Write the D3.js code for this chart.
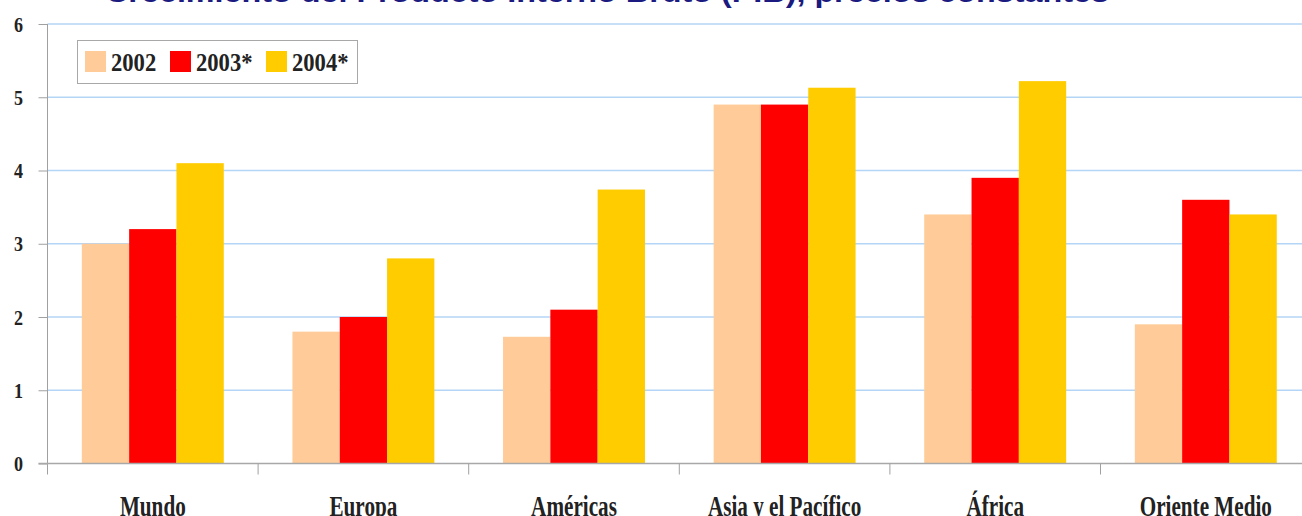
<!DOCTYPE html>
<html>
<head>
<meta charset="utf-8">
<script src="https://cdn.jsdelivr.net/npm/d3@7"></script>
<style>
  html, body { margin: 0; padding: 0; background: #fff; }
  svg { display: block; }
</style>
</head>
<body>
<svg id="chart" width="1302" height="516"></svg>
<script>
const title = "Crecimiento del Producto Interno Bruto (PIB), precios constantes";
const categories = ["Mundo", "Europa", "Américas", "Asia y el Pacífico", "África", "Oriente Medio"];
const seriesNames = ["2002", "2003*", "2004*"];
const values2002 = [3.0, 1.8, 1.73, 4.9, 3.4, 1.9];
const values2003 = [3.2, 2.0, 2.1, 4.9, 3.9, 3.6];
const values2004 = [4.1, 2.8, 3.74, 5.13, 5.22, 3.4];
const yTicks = [0, 1, 2, 3, 4, 5, 6];
const colors = ["#FFCC99", "#FF0000", "#FFCC00"];

const seriesValues = [values2002, values2003, values2004];
const W = 1302, H = 516;
const x0 = 47.5, step = 210.6;
const svg = d3.select("#chart");

const y = d3.scaleLinear().domain([0, 6]).range([463.5, 24]);
const x = d3.scaleBand().domain(categories)
  .range([x0, x0 + step * categories.length])
  .paddingInner(0.326).paddingOuter(0.163);
const xs = d3.scaleBand().domain(seriesNames).range([0, x.bandwidth()]);
const color = d3.scaleOrdinal().domain(seriesNames).range(colors);

const serif = "'Liberation Serif', 'Times New Roman', serif";
const ink = "#222";

// title (partly cut at top)
svg.append("text")
  .attr("x", 105).attr("y", 2)
  .attr("textLength", 1004).attr("lengthAdjust", "spacingAndGlyphs")
  .attr("font-family", "'Liberation Sans', Arial, sans-serif")
  .attr("font-weight", "bold").attr("font-size", 28)
  .attr("fill", "#1a1a80")
  .text(title);

// gridlines
svg.append("g").selectAll("line").data(yTicks.filter(d => d > 0)).join("line")
  .attr("x1", x0).attr("x2", W)
  .attr("y1", d => y(d)).attr("y2", d => y(d))
  .attr("stroke", "#b4d5f5").attr("stroke-width", 1.3);

// bars
const groups = svg.append("g").selectAll("g").data(categories).join("g")
  .attr("transform", d => `translate(${x(d)},0)`);
groups.selectAll("rect")
  .data((c, i) => seriesNames.map((s, k) => ({ s, v: seriesValues[k][i] })))
  .join("rect")
  .attr("x", d => xs(d.s)).attr("width", xs.bandwidth())
  .attr("y", d => y(d.v)).attr("height", d => y(0) - y(d.v))
  .attr("fill", d => color(d.s));

// y axis
const yAxis = svg.append("g").attr("transform", `translate(${x0},0)`)
  .call(d3.axisLeft(y).tickValues(yTicks).tickFormat(d3.format("d"))
    .tickSizeInner(9).tickSizeOuter(0).tickPadding(0));
yAxis.select(".domain").remove();
yAxis.selectAll(".tick line").attr("stroke", "#a0a0a0");
yAxis.selectAll(".tick text")
  .attr("x", null).attr("dy", null)
  .attr("transform", "translate(-24.5,7) scale(0.82,1)")
  .attr("text-anchor", "end")
  .attr("font-family", serif).attr("font-size", 22).attr("font-weight", "bold")
  .attr("fill", ink);
svg.append("line").attr("x1", x0).attr("x2", x0).attr("y1", y(6)).attr("y2", y(0) + 11)
  .attr("stroke", "#a0a0a0").attr("stroke-width", 1);

// x axis
svg.append("line").attr("x1", x0 - 9).attr("x2", W).attr("y1", y(0)).attr("y2", y(0))
  .attr("stroke", "#a8a8a8").attr("stroke-width", 1.5);
const bounds = categories.map(c => x(c) - x.step() * x.paddingOuter());
svg.append("g").selectAll("line").data(bounds.slice(1)).join("line")
  .attr("x1", d => d).attr("x2", d => d)
  .attr("y1", y(0)).attr("y2", y(0) + 11)
  .attr("stroke", "#a0a0a0");
svg.append("g").selectAll("text").data(categories).join("text")
  .attr("transform", d => `translate(${x(d) + x.bandwidth() / 2},516) scale(0.73,1)`)
  .attr("text-anchor", "middle")
  .attr("font-family", serif).attr("font-size", 29).attr("font-weight", "bold")
  .attr("fill", ink)
  .text(d => d);

// legend
const lg = svg.append("g");
lg.append("rect").attr("x", 77.5).attr("y", 40.5).attr("width", 280).attr("height", 43)
  .attr("fill", "#fff").attr("stroke", "#a8a8a8").attr("stroke-width", 1);
const legendX = [85, 170, 266];
const item = lg.selectAll("g.item").data(seriesNames).join("g").attr("class", "item")
  .attr("transform", (d, i) => `translate(${legendX[i]},51)`);
item.append("rect").attr("width", 21).attr("height", 21).attr("fill", d => color(d));
item.append("text")
  .attr("transform", "translate(26,20) scale(0.87,1)")
  .attr("font-family", serif).attr("font-size", 26).attr("font-weight", "bold")
  .attr("fill", ink)
  .text(d => d);
</script>
</body>
</html>
